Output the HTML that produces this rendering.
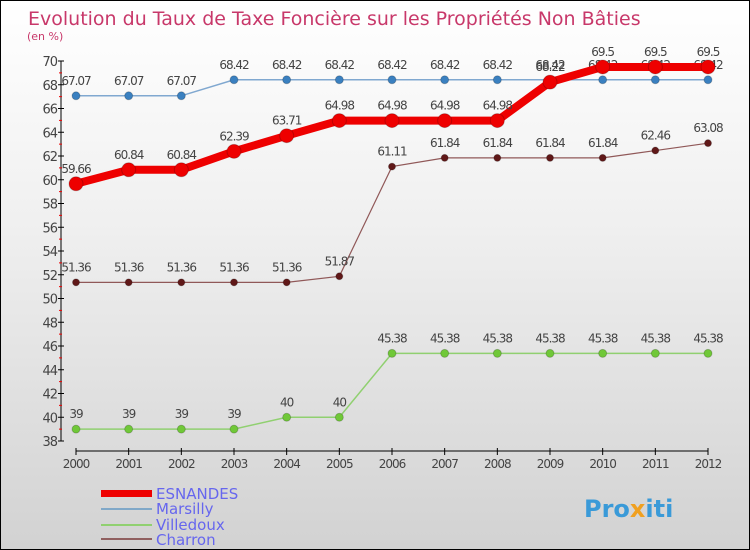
<!DOCTYPE html>
<html><head><meta charset="utf-8"><style>
body{margin:0}
#c{width:748px;height:548px;border:1px solid #000;background:linear-gradient(#fff,#f0f0f0 40%,#d2d2d2);position:relative;overflow:hidden;font-family:"DejaVu Sans","Liberation Sans",sans-serif}
</style></head><body>
<div id="c">
<svg id="s" width="748" height="548" font-family="DejaVu Sans, Liberation Sans, sans-serif">
<text x="27" y="24" font-size="19" fill="#c8386a">Evolution du Taux de Taxe Foncière sur les Propriétés Non Bâties</text>
<text x="26" y="39" font-size="11" fill="#c8386a">(en %)</text>
<g id="axes"></g><g id="series"></g>
<g>
<rect x="100" y="489" width="51" height="7" fill="#e00"/>
<text x="155" y="498" font-size="15" fill="#6666ee">ESNANDES</text>
<rect x="100" y="507" width="51" height="2" fill="#80a8c8"/>
<text x="155" y="513" font-size="15" fill="#6666ee">Marsilly</text>
<rect x="100" y="523" width="51" height="2" fill="#90d070"/>
<text x="155" y="529" font-size="15" fill="#6666ee">Villedoux</text>
<rect x="100" y="537" width="51" height="2" fill="#906060"/>
<text x="155" y="544" font-size="15" fill="#6666ee">Charron</text>
</g>
<text x="583" y="516" font-size="24" font-weight="bold" fill="#3a9ad8">Pro<tspan fill="#f0a020">x</tspan>iti</text>
</svg>
</div>
<script>
const years=[2000,2001,2002,2003,2004,2005,2006,2007,2008,2009,2010,2011,2012];
const esnandes=[59.66,60.84,60.84,62.39,63.71,64.98,64.98,64.98,64.98,68.22,69.5,69.5,69.5];
const marsilly=[67.07,67.07,67.07,68.42,68.42,68.42,68.42,68.42,68.42,68.42,68.42,68.42,68.42];
const villedoux=[39,39,39,39,40,40,45.38,45.38,45.38,45.38,45.38,45.38,45.38];
const charron=[51.36,51.36,51.36,51.36,51.36,51.87,61.11,61.84,61.84,61.84,61.84,62.46,63.08];
const yTicks=[38,40,42,44,46,48,50,52,54,56,58,60,62,64,66,68,70];
const NS='http://www.w3.org/2000/svg';
const X=y=>75+(y-2000)*(707-75)/12;
const Y=v=>60+(70-v)*11.875;
const ax=document.getElementById('axes'),sr=document.getElementById('series');
function mk(p,t,a){const e=document.createElementNS(NS,t);for(const k in a)e.setAttribute(k,a[k]);p.appendChild(e);return e;}
let e=mk(ax,'line',{x1:60,y1:60,x2:60,y2:440,stroke:'#000'});


e=mk(ax,'line',{x1:75,y1:450,x2:707,y2:450,stroke:'#000'});


yTicks.forEach((t,i)=>{
  mk(ax,'line',{x1:57,x2:63,y1:Y(t),y2:Y(t),stroke:'#000'});
  if(i<yTicks.length-1)mk(ax,'line',{x1:58,x2:61,y1:Y(t+1),y2:Y(t+1),stroke:'#e00'});
  const l=mk(ax,'text',{x:56,y:Y(t)+5,'text-anchor':'end','font-size':13,fill:'#444','letter-spacing':'-1'});l.textContent=t;
  
  
});
years.forEach(y=>{
  mk(ax,'line',{x1:X(y),x2:X(y),y1:447,y2:454,stroke:'#000'});
  const l=mk(ax,'text',{x:X(y),y:467,'text-anchor':'middle','font-size':12,fill:'#444','letter-spacing':'-1'});l.textContent=y;
  
  
});
function series(vals,name,color,lw,r,dot){
  const g=mk(sr,'g',{});
  
  
  mk(g,'polyline',{points:vals.map((v,i)=>X(years[i])+','+Y(v)).join(' '),fill:'none',stroke:color,'stroke-width':lw});
  vals.forEach((v,i)=>{
    const c=mk(g,'circle',{cx:X(years[i]),cy:Y(v),r:r,fill:dot,stroke:'#0003'});
    
    
    const t=mk(g,'text',{x:X(years[i]),y:Y(v)-11,'text-anchor':'middle','font-size':12,fill:'#444','letter-spacing':'-1'});t.textContent=v;
    
    
  });
}
series(marsilly,'marsilly','#80a8d0',1.5,4,'#3a80c0');
series(villedoux,'villedoux','#90d070',1.5,4,'#70c838');
series(charron,'charron','#905858',1.2,3.5,'#601818');
series(esnandes,'esnandes','#e00',8,7,'#e00');
</script>
</body></html>
